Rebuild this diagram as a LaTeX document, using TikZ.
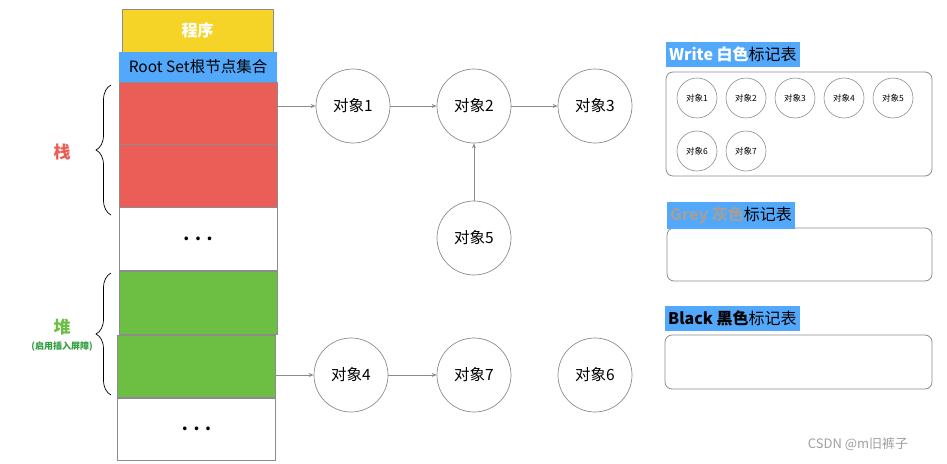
\documentclass[tikz,border=0pt]{standalone}
\usepackage{fontspec}
\setmainfont{Noto Sans CJK SC}
\usetikzlibrary{arrows.meta,decorations.pathreplacing}
\definecolor{progyellow}{HTML}{F5D327}
\definecolor{rootblue}{HTML}{52A8FA}
\definecolor{stackred}{HTML}{EB5E57}
\definecolor{heapgreen}{HTML}{6DBF44}
\definecolor{darkgreen}{HTML}{2E9E3E}
\definecolor{linegray}{HTML}{8C8C8C}
\definecolor{textgray}{HTML}{A0A0A0}
\tikzset{
  cell/.style={draw=linegray, line width=0.8pt, inner sep=0pt, minimum width=158pt, minimum height=63pt},
  dots/.style={font=\fontsize{17}{19}\selectfont\bfseries},
  objnode/.style={circle, draw=linegray, line width=0.7pt, minimum size=74pt, inner sep=0pt, font=\fontsize{15.5}{17}\selectfont},
  smallobj/.style={circle, draw=linegray, line width=0.6pt, minimum size=40pt, inner sep=0pt, font=\fontsize{8.5}{10}\selectfont},
  marktable/.style={draw=linegray, line width=0.8pt, rounded corners=7pt},
  tabletitle/.style={fill=rootblue, inner xsep=3pt, inner ysep=4.5pt, anchor=north west, font=\fontsize{16}{18}\selectfont},
  link/.style={draw=linegray, line width=0.7pt, -{Stealth[length=5pt,width=4pt]}}
}
\begin{document}
\begin{tikzpicture}[x=1pt,y=-1pt]
	\useasboundingbox (0,0) rectangle (947,463);
	% program and root set
	\node[draw=linegray, fill=progyellow, minimum width=151pt, minimum height=43pt, inner sep=0pt, text=white, font=\fontsize{16}{18}\selectfont\bfseries] (prog) at (197.5,30.5) {程序};
	\node[fill=rootblue, minimum width=158pt, minimum height=30pt, inner sep=0pt, font=\fontsize{15.5}{17}\selectfont] (root) at (198,67) {Root Set根节点集合};
	
	% stack and heap cells
	\node[cell, fill=stackred] (s1) at (198,113.5) {};
	\node[cell, fill=stackred] (s2) at (198,176) {};
	\node[cell, dots] (s3) at (198,239) {.\,\,.\,\,.};
	\node[cell, fill=heapgreen] (h1) at (198,302.5) {};
	\node[cell, fill=heapgreen] (h2) at (196.5,367) {};
	\node[cell, dots] (h3) at (196.5,429) {.\,\,.\,\,.};
	
	% braces
	\draw[decorate, decoration={brace, amplitude=15pt}, line width=0.7pt] (111,215) -- (111,85);
	\node[text=stackred, font=\fontsize{17}{19}\selectfont\bfseries] (stack) at (62,152) {栈};
	\draw[decorate, decoration={brace, amplitude=15pt}, line width=0.7pt] (111,395) -- (111,273);
	\node[text=heapgreen, font=\fontsize{17}{19}\selectfont\bfseries] (heap) at (62,327) {堆};
	\node[text=darkgreen, font=\fontsize{9}{11}\selectfont\bfseries] (barrier) at (62,347) {(启用插入屏障)};
	
	% objects
	\node[objnode] (o1) at (353,106) {对象1};
	\node[objnode] (o2) at (474,106) {对象2};
	\node[objnode] (o3) at (595,106) {对象3};
	\node[objnode] (o5) at (474,238) {对象5};
	\node[objnode] (o4) at (351,375) {对象4};
	\node[objnode] (o7) at (474,375) {对象7};
	\node[objnode] (o6) at (595,375) {对象6};
	\coordinate (r1) at (s1.east |- o1);
	\coordinate (r2) at (h2.east |- o4);
	\draw[link] (r1) -- (o1);
	\draw[link] (o1) -- (o2);
	\draw[link] (o2) -- (o3);
	\draw[link] (o5) -- (o2);
	\draw[link] (r2) -- (o4);
	\draw[link] (o4) -- (o7);
	
	% mark tables
	\draw[marktable] (666,72) rectangle (932,176);
	\node[tabletitle] (white) at (666,42) {\textcolor{white}{\textbf{Write 白色}}标记表};
	\node[smallobj] (w1) at (697,98) {对象1};
	\node[smallobj] (w2) at (746,98) {对象2};
	\node[smallobj] (w3) at (795,98) {对象3};
	\node[smallobj] (w4) at (844,98) {对象4};
	\node[smallobj] (w5) at (893,98) {对象5};
	\node[smallobj] (w6) at (697,151) {对象6};
	\node[smallobj] (w7) at (746,151) {对象7};
	
	\draw[marktable] (667,228) rectangle (932,281);
	\node[tabletitle] (grey) at (667,202) {\textcolor{textgray}{\textbf{Grey 灰色}}标记表};
	
	\draw[marktable] (665,335) rectangle (932,389);
	\node[tabletitle] (black) at (665,306) {\textbf{Black 黑色}标记表};
	
	\node[text=textgray, font=\fontsize{13}{15}\selectfont] (mark) at (858,444) {CSDN @m旧裤子};
\end{tikzpicture}
\end{document}
